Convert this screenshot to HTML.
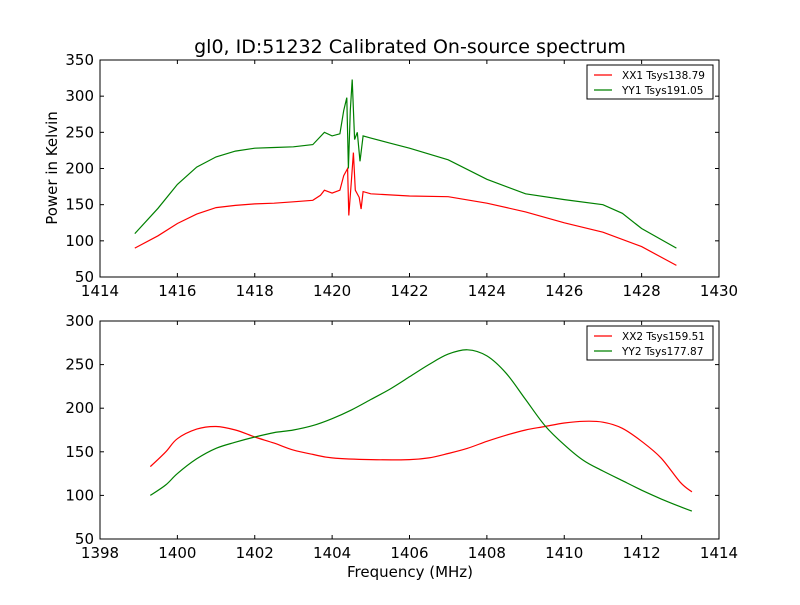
<!DOCTYPE html>
<html><head><meta charset="utf-8"><style>
body{margin:0;background:#fff}
svg text{font-family:"DejaVu Sans","Liberation Sans",sans-serif;fill:#000}
</style></head><body>
<svg id="c" width="800" height="600" xmlns="http://www.w3.org/2000/svg">
<rect width="800" height="600" fill="#fff"/>
<text x="410" y="53" font-size="19" text-anchor="middle">gl0, ID:51232 Calibrated On-source spectrum</text>
<text x="410" y="577" font-size="15" text-anchor="middle">Frequency (MHz)</text>
<text transform="translate(57,168) rotate(-90)" font-size="15" text-anchor="middle">Power in Kelvin</text>
</svg>
<script>
const topXTicks=[1414,1416,1418,1420,1422,1424,1426,1428,1430];
const topYTicks=[50,100,150,200,250,300,350];
const botXTicks=[1398,1400,1402,1404,1406,1408,1410,1412,1414];
const botYTicks=[50,100,150,200,250,300];
const xx1F=[1414.9,1415.5,1416,1416.5,1417,1417.5,1418,1418.5,1419,1419.5,1419.7,1419.8,1420,1420.2,1420.3,1420.4,1420.43,1420.5,1420.55,1420.6,1420.7,1420.75,1420.8,1421,1422,1423,1424,1425,1426,1427,1428,1428.9];
const xx1V=[90,107,124,137,146,149,151,152,154,156,163,170,166,170,190,200,135,185,222,170,160,144,168,165,162,161,152,140,125,112,92,66];
const yy1F=[1414.9,1415.5,1416,1416.5,1417,1417.5,1418,1418.5,1419,1419.5,1419.8,1420,1420.2,1420.3,1420.38,1420.42,1420.47,1420.52,1420.58,1420.65,1420.72,1420.8,1421,1421.5,1422,1423,1424,1425,1426,1427,1427.5,1428,1428.9];
const yy1V=[110,145,178,202,216,224,228,229,230,233,250,245,248,280,298,200,280,323,240,250,210,245,242,235,228,212,185,165,157,150,138,117,90];
const xx2F=[1399.3,1399.7,1400,1400.5,1401,1401.5,1402,1402.5,1403,1403.5,1404,1405,1406,1406.5,1407,1407.5,1408,1408.5,1409,1409.5,1410,1410.5,1411,1411.5,1412,1412.5,1413,1413.3];
const xx2V=[133,150,165,176,179,175,167,160,152,147,143,141,141,143,148,154,162,169,175,179,183,185,184,177,162,143,115,104];
const yy2F=[1399.3,1399.7,1400,1400.5,1401,1401.5,1402,1402.5,1403,1403.5,1404,1404.5,1405,1405.5,1406,1406.5,1407,1407.5,1408,1408.5,1409,1409.5,1410,1410.5,1411,1411.5,1412,1412.5,1413,1413.3];
const yy2V=[100,112,125,142,154,161,167,172,175,180,188,198,210,222,236,250,262,267,260,240,210,180,158,140,128,117,106,96,87,82];

const svg=document.getElementById('c');
const NS='http://www.w3.org/2000/svg';
function mk(t,a){const e=document.createElementNS(NS,t);for(const k in a)e.setAttribute(k,a[k]);svg.appendChild(e);return e;}
function pathD(pts,smooth){
  if(!smooth) return pts.map((p,i)=>(i?'L':'M')+p[0].toFixed(1)+','+p[1].toFixed(1)).join('');
  let d='M'+pts[0][0].toFixed(1)+','+pts[0][1].toFixed(1);
  for(let i=0;i<pts.length-1;i++){
    const p0=pts[i-1]||pts[i],p1=pts[i],p2=pts[i+1],p3=pts[i+2]||p2;
    const c1=[p1[0]+(p2[0]-p0[0])/6,p1[1]+(p2[1]-p0[1])/6];
    const c2=[p2[0]-(p3[0]-p1[0])/6,p2[1]-(p3[1]-p1[1])/6];
    d+='C'+c1.map(v=>v.toFixed(1)).join(',')+' '+c2.map(v=>v.toFixed(1)).join(',')+' '+p2.map(v=>v.toFixed(1)).join(',');
  }
  return d;
}
function panel(name,top,bot,x0,x1,y0,y1,xt,yt,series,legend,smooth){
  const L=100,R=719;
  const sx=v=>L+(v-x0)/(x1-x0)*(R-L);
  const sy=v=>bot-(v-y0)/(y1-y0)*(bot-top);
  series.forEach(s=>{
    const pts=s.f.map((f,i)=>[sx(f),sy(s.v[i])]);
    const p=mk('path',{d:pathD(pts,smooth),fill:'none',stroke:s.c,'stroke-width':1.2});
    
    
  });
  const fr=mk('rect',{x:L,y:top,width:R-L,height:bot-top,fill:'none',stroke:'#000'});
  
  
  xt.forEach(v=>{
    const x=sx(v);
    mk('line',{x1:x,x2:x,y1:bot,y2:bot-4,stroke:'#000'});
    mk('line',{x1:x,x2:x,y1:top,y2:top+4,stroke:'#000'});
    const t=mk('text',{x:x,y:bot+19,'font-size':15,'text-anchor':'middle'});
    t.textContent=v;
    
    
  });
  yt.forEach(v=>{
    const y=sy(v);
    mk('line',{x1:L,x2:L+4,y1:y,y2:y,stroke:'#000'});
    mk('line',{x1:R,x2:R-4,y1:y,y2:y,stroke:'#000'});
    const t=mk('text',{x:L-6,y:y+5,'font-size':15,'text-anchor':'end'});
    t.textContent=v;
    
    
  });
  const lg=mk('rect',{x:587,y:top+5,width:126,height:34,fill:'#fff',stroke:'#000'});
  
  
  legend.forEach((l,i)=>{
    const y=top+15+i*15;
    mk('line',{x1:594,x2:612,y1:y,y2:y,stroke:l.c,'stroke-width':1.2});
    const t=mk('text',{x:622,y:y+4,'font-size':10.5});
    t.textContent=l.t;
    
    
  });
}
panel('top-panel',60,277,1414,1430,50,350,topXTicks,topYTicks,
  [{f:xx1F,v:xx1V,c:'#ff0000',n:'xx1'},{f:yy1F,v:yy1V,c:'#008000',n:'yy1'}],
  [{c:'#ff0000',t:'XX1 Tsys138.79'},{c:'#008000',t:'YY1 Tsys191.05'}],false);
panel('bottom-panel',321,539,1398,1414,50,300,botXTicks,botYTicks,
  [{f:xx2F,v:xx2V,c:'#ff0000',n:'xx2'},{f:yy2F,v:yy2V,c:'#008000',n:'yy2'}],
  [{c:'#ff0000',t:'XX2 Tsys159.51'},{c:'#008000',t:'YY2 Tsys177.87'}],true);
</script>
</body></html>
